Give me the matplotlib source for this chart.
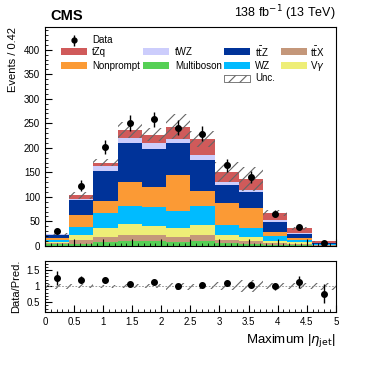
import matplotlib
matplotlib.use("Agg")
import matplotlib.pyplot as plt
import numpy as np
from matplotlib.patches import Rectangle
from matplotlib.ticker import MultipleLocator

plt.rcParams['font.family'] = ['Liberation Sans', 'DejaVu Sans']
plt.rcParams['hatch.linewidth'] = 0.8

# binning: 12 bins from 0 to 5
edges = np.linspace(0, 5, 13)

# stacked backgrounds, bottom to top
multiboson = [3, 4, 7, 9, 9, 7, 10, 5, 4, 2, 2, 0.5]
ttx = [2, 7, 12, 14, 13, 12, 12, 7, 6, 3, 2, 0.5]
vgamma = [3, 11, 18, 22, 19, 18, 20, 10, 9, 5, 3, 1]
wz = [4, 17, 30, 36, 39, 34, 39, 21, 17, 11, 5, 1]
nonprompt = [5, 23, 24, 50, 40, 74, 30, 44, 42, 8, 4, 0.5]
ttz = [6, 31, 61, 79, 77, 64, 65, 38, 31, 20, 8, 2]
twz = [1, 3, 10, 11, 12, 9, 9, 5, 4, 3, 2.5, 0.5]
tzq = [1, 7, 8, 15, 18, 25, 33, 21, 23, 15, 9.5, 3]

unc = [2, 7, 8, 16, 13, 26, 17, 20, 24, 6, 3, 1]

data = [31, 123, 202, 250, 258, 241, 229, 164, 141, 66, 38, 6]
data_err = [5.6, 11, 14, 16, 16, 15.5, 15, 13, 12, 8, 6, 2.5]

ratio = [1.26, 1.20, 1.19, 1.06, 1.14, 0.99, 1.05, 1.09, 1.03, 0.99, 1.12, 0.77]
ratio_err = [0.22, 0.11, 0.08, 0.07, 0.07, 0.07, 0.07, 0.09, 0.09, 0.10, 0.18, 0.30]

stack = [
    ("Multiboson", multiboson, "#55d055"),
    ("ttX", ttx, "#c4977a"),
    ("Vgamma", vgamma, "#eeee77"),
    ("WZ", wz, "#00bbff"),
    ("Nonprompt", nonprompt, "#fb9a35"),
    ("ttZ", ttz, "#003399"),
    ("tWZ", twz, "#cccdfc"),
    ("tZq", tzq, "#d05a5a"),
]

fig = plt.figure(figsize=(3.74, 3.67), dpi=100)
ax = fig.add_axes([0.120, 0.330, 0.778, 0.596])
rax = fig.add_axes([0.120, 0.150, 0.778, 0.139])

width = np.diff(edges)
centers = 0.5 * (edges[:-1] + edges[1:])
bottom = np.zeros(12)
for name, vals, col in stack:
    vals = np.array(vals, dtype=float)
    ax.bar(edges[:-1], vals, width=width, bottom=bottom, align='edge',
           color=col, linewidth=0)
    bottom += vals
total = bottom
unc = np.array(unc, dtype=float)

ax.bar(edges[:-1], 2 * unc, width=width, bottom=total - unc, align='edge',
       fill=False, hatch='///', edgecolor='#666666', linewidth=0)
ax.errorbar(centers, data, yerr=data_err, fmt='o', color='black',
            markersize=4, elinewidth=1, capsize=0)

ax.set_xlim(0, 5)
ax.set_ylim(0, 446)
ax.yaxis.set_major_locator(MultipleLocator(50))
ax.yaxis.set_minor_locator(MultipleLocator(10))
ax.xaxis.set_major_locator(MultipleLocator(0.5))
ax.xaxis.set_minor_locator(MultipleLocator(0.1))
ax.tick_params(which='both', direction='in', labelsize=7, labelbottom=False)
ax.tick_params(which='major', length=5)
ax.tick_params(which='minor', length=2.5)
ax.set_ylabel("Events / 0.42", fontsize=8, loc='top')

# legend drawn by hand in pixel-like coordinates of the axes
def axc(px, py):
    return (px - 45) / 291.0, (246 - py) / 219.0

tr = ax.transAxes
x, y = axc(74, 40)
ax.errorbar([x], [y], yerr=[0.025], fmt='o', color='black', markersize=3.5,
            elinewidth=1, transform=tr, clip_on=False)
tx, ty = axc(92, 40)
ax.text(tx, ty, "Data", transform=tr, fontsize=7, va='center')

legend_items = [
    ("tZq", "#d05a5a", 61, 92, 51.5),
    ("tWZ", "#cccdfc", 143, 175, 51.5),
    ("t$\\bar{\\mathrm{t}}$Z", "#003399", 224, 255, 51.5),
    ("t$\\bar{\\mathrm{t}}$X", "#c4977a", 281, 310, 51.5),
    ("Nonprompt", "#fb9a35", 61, 92, 65.5),
    ("Multiboson", "#55d055", 143, 175, 65.5),
    ("WZ", "#00bbff", 224, 255, 65.5),
    ("V$\\gamma$", "#eeee77", 281, 310, 65.5),
]
bw = 26 / 291.0
bh = 7 / 219.0
for label, col, bx, tx_, py in legend_items:
    x0, y0 = axc(bx, py)
    ax.add_patch(Rectangle((x0, y0 - bh / 2), bw, bh, transform=tr,
                           facecolor=col, edgecolor='none'))
    lx, ly = axc(tx_, py)
    ax.text(lx, ly, label, transform=tr, fontsize=7, va='center')

x0, y0 = axc(224, 78)
ax.add_patch(Rectangle((x0, y0 - bh / 2), bw, bh, transform=tr,
                       facecolor='white', edgecolor='#666666', hatch='///',
                       linewidth=0.6))
lx, ly = axc(255, 78)
ax.text(lx, ly, "Unc.", transform=tr, fontsize=7, va='center')

ax.text(0.0 + 5 / 291.0, 1.02, "CMS", transform=tr, fontsize=10.5,
        fontweight='bold', va='bottom', ha='left')
ax.text(1.0, 1.02, "138 fb$^{-1}$ (13 TeV)", transform=tr, fontsize=9,
        va='bottom', ha='right')

# ratio panel
rel = unc / total
rax.bar(edges[:-1], 2 * rel, width=width, bottom=1 - rel, align='edge',
        fill=False, hatch='///', edgecolor='#666666', linewidth=0)
rax.axhline(1, color='#888888', lw=0.6, ls=(0, (2, 2)))
rax.errorbar(centers, ratio, yerr=ratio_err, fmt='o', color='black',
             markersize=4, elinewidth=1, capsize=0)
rax.set_xlim(0, 5)
rax.set_ylim(0.2, 1.78)
rax.yaxis.set_minor_locator(MultipleLocator(0.1))
rax.xaxis.set_minor_locator(MultipleLocator(0.1))
rax.tick_params(which='both', direction='in', labelsize=7)
rax.tick_params(which='major', length=5)
rax.tick_params(which='minor', length=2.5)
rax.set_yticks([0.5, 1, 1.5])
rax.set_yticklabels(["0.5", "1", "1.5"])
rax.set_xticks(np.arange(0, 5.01, 0.5))
rax.set_xticklabels(["0", "0.5", "1", "1.5", "2", "2.5", "3", "3.5", "4", "4.5", "5"])
rax.set_ylabel("Data/Pred.", fontsize=8)
rax.set_xlabel("Maximum |$\\eta_{\\mathrm{jet}}$|", fontsize=9.5, loc='right')

fig.savefig("out.png", dpi=100)
